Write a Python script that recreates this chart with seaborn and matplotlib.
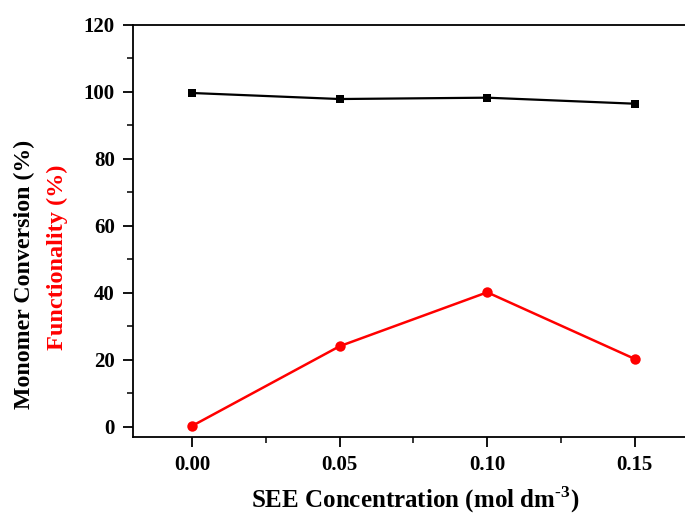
import matplotlib
matplotlib.use("Agg")
import matplotlib.pyplot as plt
import seaborn as sns
import pandas as pd
from matplotlib.ticker import MultipleLocator

see_conc = [0.00, 0.05, 0.10, 0.15]
monomer_conversion = [99.7, 97.9, 98.3, 96.5]
functionality = [0.3, 24.1, 40.2, 20.3]
x_ticks = [0.00, 0.05, 0.10, 0.15]
x_ticklabels = ["0.00", "0.05", "0.10", "0.15"]
y_ticks = [0, 20, 40, 60, 80, 100, 120]

sns.set_theme(style="ticks")
plt.rcParams["font.family"] = ["Liberation Serif", "DejaVu Serif"]
plt.rcParams["font.weight"] = "bold"
plt.rcParams["text.color"] = "black"
plt.rcParams["xtick.color"] = "black"
plt.rcParams["ytick.color"] = "black"
plt.rcParams["mathtext.fontset"] = "custom"
plt.rcParams["mathtext.rm"] = "Liberation Serif:bold"
plt.rcParams["mathtext.bf"] = "Liberation Serif:bold"

df = pd.DataFrame({"x": see_conc, "mc": monomer_conversion, "fn": functionality})

fig = plt.figure(figsize=(6.85, 5.22), dpi=100)
ax = fig.add_axes([133/685, 1-437/522, 1-133/685, (437-25)/522])

sns.lineplot(data=df, x="x", y="mc", ax=ax, color="black", marker="s",
             markersize=6.2, markeredgewidth=0, linewidth=1.6)
sns.lineplot(data=df, x="x", y="fn", ax=ax, color="red", marker="o",
             markersize=7.5, markeredgewidth=0, linewidth=1.8)

ax.set_xlim(-0.0200, 0.1670)
ax.set_ylim(-3.0, 120)
ax.set_xticks(x_ticks)
ax.set_xticklabels(x_ticklabels)
ax.set_yticks(y_ticks)
ax.xaxis.set_minor_locator(MultipleLocator(0.025))
ax.yaxis.set_minor_locator(MultipleLocator(10))
ax.tick_params(axis="both", which="major", direction="out", length=7, width=1.3,
               labelsize=15, color="black", labelcolor="black", pad=6)
ax.tick_params(axis="both", which="minor", direction="out", length=4, width=1.1, color="black")
for lab in ax.get_xticklabels() + ax.get_yticklabels():
    lab.set_fontweight("bold")
ax.spines["right"].set_visible(False)
for s in ["left", "bottom", "top"]:
    ax.spines[s].set_linewidth(1.3)
    ax.spines[s].set_color("black")
ax.set_xlabel("")
ax.set_ylabel("")

fig.text(415/685, 1-500/522, r"SEE Concentration (mol dm$^{\text{-3}}$)", ha="center", va="center",
         fontsize=18, fontweight="bold", color="black")
fig.text(24/685, 1-274/522, "Monomer Conversion (%)", rotation=90, ha="center", va="center",
         fontsize=17.2, fontweight="bold", color="black")
fig.text(57/685, 1-257.5/522, "Functionality (%)", rotation=90, ha="center", va="center",
         fontsize=17.5, fontweight="bold", color="red")

fig.savefig("out.png", dpi=100)
